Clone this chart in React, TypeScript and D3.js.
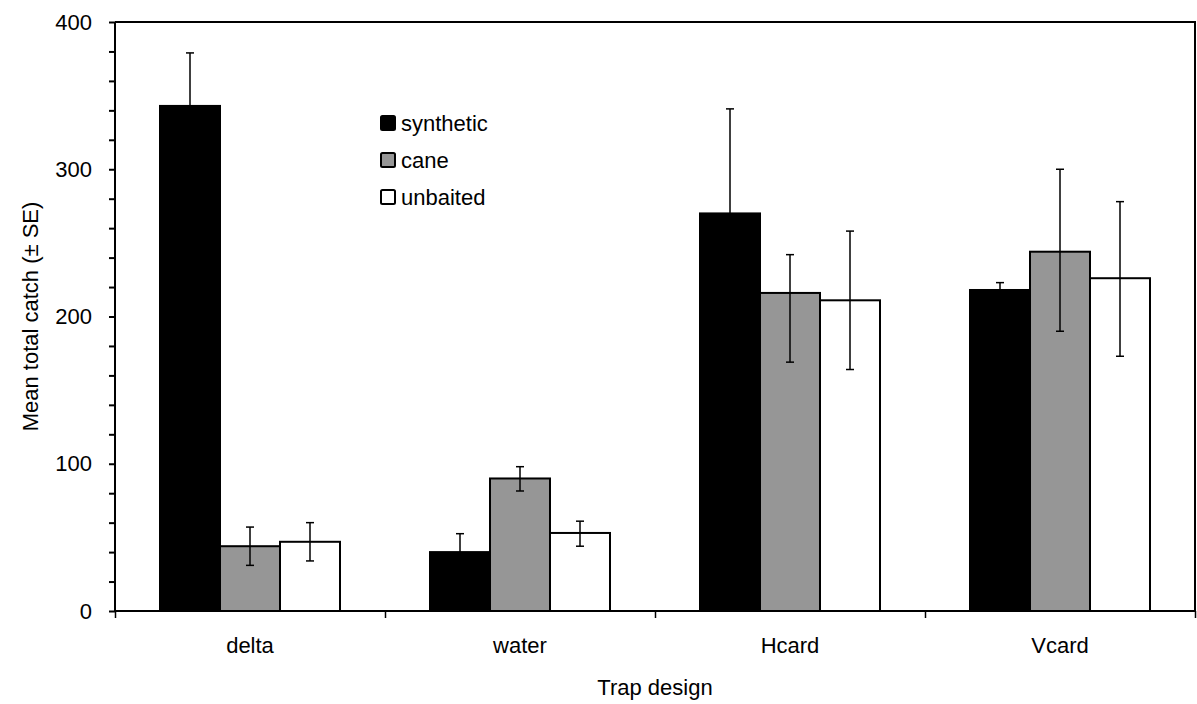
import React, { useEffect, useRef } from "react";
import * as d3 from "d3";

const categories = ["delta", "water", "Hcard", "Vcard"];
const seriesNames = ["synthetic", "cane", "unbaited"];
const seriesColors = ["#000000", "#969696", "#ffffff"];

const synthetic = [343, 40, 270, 218];
const cane = [44, 90, 216, 244];
const unbaited = [47, 53, 211, 226];

// error bars (upper / lower)
const syntheticErrUp = [36, 12.5, 71, 5];
const syntheticErrDown = [36, 12.5, 71, 5];
const caneErrUp = [13, 8, 26, 56];
const caneErrDown = [13, 8.5, 47, 54];
const unbaitedErrUp = [13, 8, 47, 52];
const unbaitedErrDown = [13, 9, 47, 53];

const yTicks = d3.range(0, 401, 20);

const width = 1197;
const height = 704;
const margin = { top: 22, right: 2, bottom: 93, left: 115 };
const font = "'Liberation Sans', Arial, sans-serif";

export default function App() {
  const ref = useRef<SVGSVGElement>(null);

  useEffect(() => {
    const svg = d3.select(ref.current);
    svg.selectAll("*").remove();

    const values = [synthetic, cane, unbaited];
    const errUp = [syntheticErrUp, caneErrUp, unbaitedErrUp];
    const errDown = [syntheticErrDown, caneErrDown, unbaitedErrDown];

    const x0 = d3
      .scaleBand()
      .domain(categories)
      .range([margin.left, width - margin.right])
      .padding(0);
    const x1 = d3
      .scaleBand()
      .domain(seriesNames)
      .range([0, x0.bandwidth()])
      .paddingInner(0)
      .paddingOuter(0.75);
    const y = d3
      .scaleLinear()
      .domain([0, 400])
      .range([height - margin.bottom, margin.top]);

    const bounds = d3
      .scaleLinear()
      .domain([0, categories.length])
      .range([margin.left, width - margin.right]);

    // bars
    seriesNames.forEach((s, si) => {
      svg
        .append("g")
        .selectAll("rect")
        .data(categories)
        .enter()
        .append("rect")
        .attr("x", (c) => (x0(c) as number) + (x1(s) as number))
        .attr("y", (c, i) => y(values[si][i]))
        .attr("width", x1.bandwidth())
        .attr("height", (c, i) => y(0) - y(values[si][i]))
        .attr("fill", seriesColors[si])
        .attr("stroke", "#000")
        .attr("stroke-width", 2);
    });

    // error bars
    seriesNames.forEach((s, si) => {
      const g = svg.append("g").attr("stroke", "#000").attr("stroke-width", 1.5);
      categories.forEach((c, i) => {
        const cx = (x0(c) as number) + (x1(s) as number) + x1.bandwidth() / 2;
        const hi = y(values[si][i] + errUp[si][i]);
        const lo = y(values[si][i] - errDown[si][i]);
        g.append("line").attr("x1", cx).attr("x2", cx).attr("y1", hi).attr("y2", lo);
        g.append("line").attr("x1", cx - 4).attr("x2", cx + 4).attr("y1", hi).attr("y2", hi);
        g.append("line").attr("x1", cx - 4).attr("x2", cx + 4).attr("y1", lo).attr("y2", lo);
      });
    });

    // frame (top + right)
    svg
      .append("path")
      .attr(
        "d",
        `M${margin.left},${margin.top}H${width - margin.right}V${y(0)}`
      )
      .attr("fill", "none")
      .attr("stroke", "#000")
      .attr("stroke-width", 2);

    // y axis
    const yAxis = svg
      .append("g")
      .attr("transform", `translate(${margin.left},0)`)
      .call(
        d3
          .axisLeft(y)
          .tickValues(yTicks)
          .tickSize(6)
          .tickPadding(17)
          .tickFormat((d) => ((d as number) % 100 === 0 ? String(d) : ""))
      );
    yAxis.select(".domain").attr("stroke-width", 2).attr("d", `M0,${margin.top}V${y(0)}`);
    yAxis.selectAll("line").attr("stroke-width", 2);
    yAxis.selectAll("text").attr("font-size", 22).attr("font-family", font).attr("fill", "#000");

    // x axis: boundary ticks
    const xAxis = svg
      .append("g")
      .attr("transform", `translate(0,${y(0)})`)
      .call(
        d3
          .axisBottom(bounds)
          .tickValues(d3.range(0, categories.length + 1))
          .tickSize(7)
          .tickFormat(() => "")
      );
    xAxis.select(".domain").attr("stroke-width", 2).attr("d", `M${margin.left},0H${width - margin.right}`);
    xAxis.selectAll("line").attr("stroke-width", 1.5);

    // category labels
    svg
      .append("g")
      .selectAll("text")
      .data(categories)
      .enter()
      .append("text")
      .attr("x", (c) => (x0(c) as number) + x0.bandwidth() / 2)
      .attr("y", 653)
      .attr("text-anchor", "middle")
      .attr("font-size", 22)
      .attr("font-family", font)
      .text((c) => c);

    // axis titles
    svg
      .append("text")
      .attr("x", (margin.left + width - margin.right) / 2)
      .attr("y", 695)
      .attr("text-anchor", "middle")
      .attr("font-size", 22)
      .attr("font-family", font)
      .text("Trap design");

    svg
      .append("text")
      .attr("transform", `translate(38,${(y(0) + margin.top) / 2}) rotate(-90)`)
      .attr("text-anchor", "middle")
      .attr("font-size", 22)
      .attr("font-family", font)
      .text("Mean total catch (± SE)");

    // legend
    const legend = svg
      .append("g")
      .selectAll("g")
      .data(seriesNames)
      .enter()
      .append("g")
      .attr("transform", (d, i) => `translate(381,${123 + i * 37})`);
    legend
      .append("rect")
      .attr("x", 0)
      .attr("y", -7)
      .attr("width", 14)
      .attr("height", 14)
      .attr("rx", 1.5)
      .attr("fill", (d, i) => seriesColors[i])
      .attr("stroke", "#000")
      .attr("stroke-width", 2);
    legend
      .append("text")
      .attr("x", 20)
      .attr("dy", "0.35em")
      .attr("font-size", 22)
      .attr("font-family", font)
      .text((d) => d);
  }, []);

  return (
    <svg
      ref={ref}
      width={width}
      height={height}
      style={{ position: "absolute", left: 0, top: 0, background: "#fff" }}
    />
  );
}
